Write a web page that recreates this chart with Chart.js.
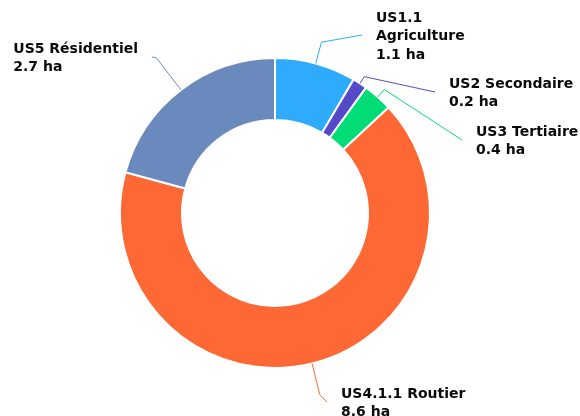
<!DOCTYPE html>
<html>
<head>
<meta charset="utf-8">
<script src="https://cdn.jsdelivr.net/npm/chart.js@4/dist/chart.umd.min.js"></script>
<style>
html,body{margin:0;padding:0;background:#fff;}
#wrap{width:580px;height:416px;position:relative;}
</style>
</head>
<body>
<div id="wrap"><canvas id="c" width="580" height="416"></canvas></div>
<script>
const categories = ["US1.1 Agriculture", "US2 Secondaire", "US3 Tertiaire", "US4.1.1 Routier", "US5 Résidentiel"];
const labelLines = [["US1.1", "Agriculture"], ["US2 Secondaire"], ["US3 Tertiaire"], ["US4.1.1 Routier"], ["US5 Résidentiel"]];
const values = [1.1, 0.2, 0.4, 8.6, 2.7];
const unit = "ha";
const colors = ["#2eacfb", "#5549c9", "#00dd77", "#fe6834", "#6a89bd"];

// label layout: elbow radius offset, line end offset from chart center, side
const labelLayout = [
  {elbow: 22, end: [87, -178], side: 1},
  {elbow: 8, end: [160, -121], side: 1},
  {elbow: 10, end: [187, -73], side: 1},
  {elbow: 32, end: [52, 189], side: 1},
  {elbow: 40, end: [-123, -156], side: -1}
];

const leaderPlugin = {
  id: 'leaders',
  afterDatasetsDraw(chart) {
    const ctx = chart.ctx;
    const meta = chart.getDatasetMeta(0);
    ctx.save();
    ctx.font = 'bold 14px "DejaVu Sans"';
    ctx.textBaseline = 'middle';
    const lh = 18.5;
    meta.data.forEach((arc, i) => {
      const p = arc.getProps(['x','y','startAngle','endAngle','outerRadius'], true);
      const mid = (p.startAngle + p.endAngle) / 2;
      const lay = labelLayout[i];
      const r0 = p.outerRadius;
      const r1 = p.outerRadius + lay.elbow;
      const x0 = p.x + Math.cos(mid) * r0, y0 = p.y + Math.sin(mid) * r0;
      const x1 = p.x + Math.cos(mid) * r1, y1 = p.y + Math.sin(mid) * r1;
      const x2 = p.x + lay.end[0], y2 = p.y + lay.end[1];
      ctx.strokeStyle = colors[i];
      ctx.lineWidth = 1;
      ctx.beginPath();
      ctx.moveTo(x0, y0); ctx.lineTo(x1, y1); ctx.lineTo(x2, y2);
      ctx.stroke();
      const lines = labelLines[i].concat([values[i].toFixed(1) + ' ' + unit]);
      const maxW = Math.max(...lines.map(t => ctx.measureText(t).width));
      const tx = lay.side > 0 ? x2 + 14 : x2 - 14 - maxW;
      const top = y2 + 1.5 - (lines.length - 1) * lh / 2;
      ctx.fillStyle = '#0a0a0a';
      ctx.textAlign = 'left';
      lines.forEach((t, k) => ctx.fillText(t, tx, top + k * lh));
    });
    ctx.restore();
  }
};

new Chart(document.getElementById('c'), {
  type: 'doughnut',
  data: {
    labels: categories,
    datasets: [{
      data: values,
      backgroundColor: colors,
      borderColor: '#ffffff',
      borderWidth: 2,
      hoverOffset: 0
    }]
  },
  options: {
    responsive: false,
    animation: false,
    cutout: '60%',
    layout: {padding: {left: 99, right: 129, top: 57, bottom: 47}},
    plugins: {legend: {display: false}, tooltip: {enabled: false}}
  },
  plugins: [leaderPlugin]
});
</script>
</body>
</html>
